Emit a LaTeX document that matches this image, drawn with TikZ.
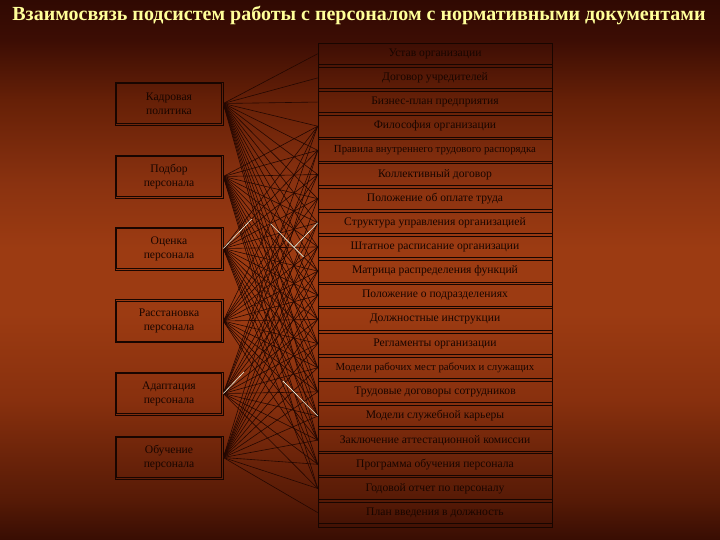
\documentclass[tikz,border=0pt]{standalone}
\usepackage{fontspec}
\setmainfont{Liberation Serif}
\usetikzlibrary{calc}
\definecolor{ink}{HTML}{180500}
\definecolor{linec}{HTML}{240701}
\definecolor{titlec}{HTML}{FFFF99}
\definecolor{bgA}{HTML}{380D03}
\definecolor{bgB}{HTML}{561A06}
\definecolor{bgC}{HTML}{88300E}
\definecolor{bgD}{HTML}{9C3B12}
\definecolor{bgE}{HTML}{8A3210}
\definecolor{bgF}{HTML}{662007}
\definecolor{bgG}{HTML}{3C0D04}
\definecolor{bgH}{HTML}{300902}
\pgfdeclareverticalshading{bgshade}{100bp}{color(0bp)=(bgA); color(25bp)=(bgA); color(28.7bp)=(bgB); color(38bp)=(bgC); color(46bp)=(bgD); color(52bp)=(bgD); color(58bp)=(bgE); color(65.7bp)=(bgF); color(71.3bp)=(bgG); color(75bp)=(bgH); color(100bp)=(bgH)}
\tikzset{
  rbox/.style={draw=ink, line width=0.6pt, minimum width=234pt, minimum height=21.5pt, inner sep=0pt, text=ink},
  lbox/.style={draw=ink, line width=0.6pt, minimum width=108pt, minimum height=43pt, inner sep=0pt, text=ink, align=center, font=\fontsize{11.6}{14}\selectfont},
  conn/.style={draw=linec, line width=0.6pt},
  glint/.style={draw=white!90!yellow, line width=0.6pt}
}
\begin{document}
\begin{tikzpicture}[x=1pt,y=-1pt]
\shade[shading=bgshade] (0,0) rectangle (720,540);
\useasboundingbox (0,0) rectangle (720,540);
\node[anchor=base, text=titlec, font=\fontsize{20}{24}\selectfont\bfseries] (title) at (359,21) {Взаимосвязь подсистем работы с персоналом с нормативными документами};
% left boxes
\node[lbox] (K) at (169,103.5) {Кадровая\\политика};
\node[lbox] (P) at (169,176.5) {Подбор\\персонала};
\node[lbox] (O) at (169,248.5) {Оценка\\персонала};
\node[lbox] (R) at (169,321) {Расстановка\\персонала};
\node[lbox] (A) at (169,393.5) {Адаптация\\персонала};
\node[lbox] (B) at (169,457.5) {Обучение\\персонала};
\foreach \n in {K,P,O,R,A,B}{
  \draw[ink, line width=0.5pt] ($(\n.north west)+(2,2)$) rectangle ($(\n.south east)+(-2,-2)$);
}
% right boxes
\draw[ink, line width=0.6pt] (318,43) rectangle (552,527);
\foreach \i/\t/\f in {1/Устав организации/11.6, 2/Договор учредителей/11.6, 3/Бизнес-план предприятия/11.6, 4/Философия организации/11.6, 5/Правила внутреннего трудового распорядка/10.8, 6/Коллективный договор/11.6, 7/Положение об оплате труда/11.6, 8/Структура управления организацией/11.6, 9/Штатное расписание организации/11.6, 10/Матрица распределения функций/11.6, 11/Положение о подразделениях/11.6, 12/Должностные инструкции/11.6, 13/Регламенты организации/11.6, 14/Модели рабочих мест рабочих и служащих/10.8, 15/Трудовые договоры сотрудников/11.6, 16/Модели служебной карьеры/11.6, 17/Заключение аттестационной комиссии/11.6, 18/Программа обучения персонала/11.6, 19/Годовой отчет по персоналу/11.6, 20/План введения в должность/11.6}{
  \node[rbox, font=\fontsize{\f}{13}\selectfont] (r\i) at (435,{43+24.15*(\i-1)+10.75}) {\t};
}
% connectors
\foreach \s/\l in {K/{1,2,3,4,5,6,7,8,9,10,11,12,13,14,15,16,17}, P/{4,5,6,7,8,9,10,11,12,13,14,15,16,17,18,19}, O/{4,5,6,7,8,9,10,11,12,13,14,15,16,17,18,19}, R/{4,6,7,8,9,10,11,12,13,14,15,16,17,18}, A/{4,5,6,8,9,10,11,12,13,14,15,16,17,18,19}, B/{5,7,8,9,10,11,12,13,14,15,16,17,18,19,20}}{
  \foreach \t in \l {
    \draw[conn] (\s.east) -- (r\t.west);
  }
}
% light glints on a few connectors
\draw[glint] (O.east) -- ($(O.east)!0.3!(r5.west)$);
\draw[glint] ($(P.east)!0.5!(r10.west)$) -- ($(P.east)!0.85!(r10.west)$);
\draw[glint] ($(R.east)!0.75!(r8.west)$) -- (r8.west);
\draw[glint] (A.east) -- ($(A.east)!0.22!(r11.west)$);
\draw[glint] ($(R.east)!0.63!(r16.west)$) -- (r16.west);
\end{tikzpicture}
\end{document}
